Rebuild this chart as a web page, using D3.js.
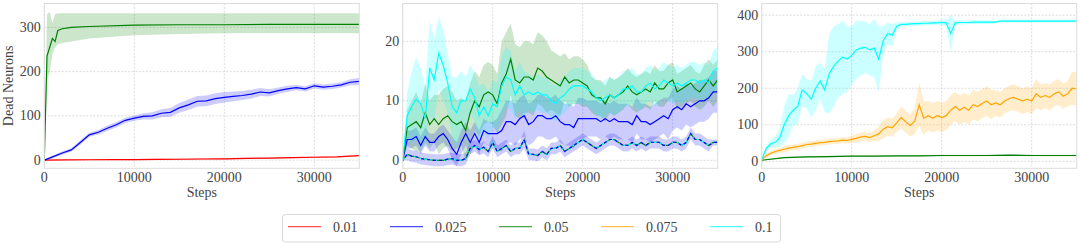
<!DOCTYPE html>
<html>
<head>
<meta charset="utf-8">
<title>Dead Neurons</title>
<script src="https://cdn.jsdelivr.net/npm/d3@7"></script>
<style>
  body { margin: 0; background: #fff; }
  text { font-family: "Liberation Serif", serif; fill: #444; }
</style>
</head>
<body>
<script>
// ---- data ----
var labels = ["0.01", "0.025", "0.05", "0.075", "0.1"];
var colors = ["#ff0000", "#0000ff", "#008000", "#ffa500", "#00ffff"];
var xTicks = [0, 10000, 20000, 30000];

// left panel
var stepsLeftGreen = [0, 300, 600, 900, 1200, 1500, 2000, 3000, 5000, 10000, 15000, 20000, 25000, 30000, 35000];
var greenLeft   = [0, 235, 255, 275, 268, 293, 297, 300, 302, 305, 306, 306, 307, 307, 307];
var greenLeftLo = [0, 180, 200, 240, 255, 262, 265, 268, 275, 282, 285, 287, 287, 287, 287];
var greenLeftHi = [0, 330, 335, 310, 330, 332, 332, 332, 332, 332, 332, 332, 332, 332, 332];
var stepsLeftBlue = d3.range(0, 35001, 1000);
var blueLeft = [0, 8, 16, 23, 40, 57, 63, 72, 80, 90, 95, 99, 100, 106, 108, 118, 125, 133, 134, 139,
                142, 144, 146, 149, 154, 152, 157, 161, 164, 161, 168, 165, 167, 170, 176, 178];
var blueLeftSpread = [1, 3, 4, 4, 5, 5, 5, 6, 6, 6, 6, 7, 8, 9, 10, 11, 12, 12, 12, 12,
                      12, 11, 10, 10, 9, 8, 7, 7, 6, 6, 6, 6, 6, 6, 7, 8];
var stepsLeftRed = d3.range(0, 35001, 2500);
var redLeft = [0, 0.5, 0.8, 1, 1.3, 1.6, 2, 2.5, 3, 4, 4.5, 5.5, 6.5, 7.5, 10];
var redLeftSpread = [0.5, 1, 1, 1, 1.5, 1.5, 1.5, 1.5, 1.5, 1.5, 1.5, 1.5, 1.5, 1.5, 1.5];

// middle panel
var stepsMid = d3.range(0, 35001, 500);
var cyanMid = [0, 7.5, 9, 10.3, 9.5, 7, 15.5, 13.5, 18, 16,
  13, 9, 8, 10, 10, 12, 10.5, 7.5, 9, 7.5,
  9.5, 9, 12.5, 14, 13.5, 11, 12.5, 11, 11.5, 11,
  11.5, 11, 11, 10, 9.5, 10.5, 11, 12, 12.5, 12.5,
  12.5, 12, 11.5, 10.5, 10, 10.5, 11, 10.5, 11, 12,
  12, 12.5, 11.5, 11.5, 12.5, 13, 12, 12.5, 13.5, 13,
  12.5, 13, 12.5, 13, 13.5, 13.5, 13, 13.5, 13, 15, 15.5];
var cyanMidSpread = [0, 4, 6, 7, 6, 5, 8, 7, 6, 6,
  5, 5, 6, 5, 4, 4, 4, 5, 4, 4,
  4, 4, 5, 5, 5, 4, 4, 4, 3, 3,
  3, 3, 3, 3, 3, 3, 3, 3, 3, 3,
  3, 3, 3, 3, 3, 3, 3, 3, 3, 3,
  3, 3, 3, 3, 3, 3, 3, 3, 3, 3,
  3, 3, 3, 3, 3, 3, 3, 3, 3, 3.5, 3.5];
var greenMid = [0, 5.5, 6, 6.5, 5.5, 8, 6, 7, 6, 7,
  7.5, 6.5, 6, 6.5, 5, 8, 10, 9, 11, 11.5,
  11, 9.5, 13, 14.5, 17, 13.5, 13, 14, 14, 13.5,
  15.5, 15, 14, 13.5, 13, 12.5, 14, 13, 13.5, 13.5,
  13, 12.5, 11, 10.5, 10.5, 9.5, 11, 10.5, 11, 11.5,
  12.5, 11.5, 11, 11.5, 12, 11.5, 13, 12, 12, 13,
  13.5, 11.5, 12, 12.5, 13, 12, 11.5, 12.5, 13.5, 12.5, 13.5];
var greenMidSpread = [0, 3, 4, 5, 4, 5, 4, 4, 5, 5,
  5, 5, 4, 4, 5, 5, 5, 5, 5, 5,
  5, 5, 7, 7, 6, 6, 6, 6, 6, 6,
  6, 6, 6, 5, 5, 5, 4, 4, 4, 4,
  4, 3.5, 3, 3, 3, 3, 3, 3, 3, 3,
  3, 3, 3, 3, 3, 3, 3, 3, 3, 3,
  3, 3, 3, 3, 3, 3, 3, 3.5, 3.5, 3.5, 3.5];
var blueMid = [0, 3.5, 3.5, 4, 2.5, 4, 3, 3, 4, 4.5,
  3.5, 2, 1, 3, 4.5, 3, 4.5, 3, 5, 4.5,
  4.5, 4.5, 5, 6.5, 6.5, 6, 7, 7.5, 6, 6.5,
  7.5, 7.5, 7, 7, 7.5, 6.5, 6, 6, 5.5, 7,
  7, 7, 7, 7, 6.5, 7, 6.5, 7, 6.5, 6.5,
  6.5, 6, 7.5, 6.5, 6.5, 6, 6.5, 7, 7.5, 7,
  8.5, 9, 8.5, 9.5, 9, 9.5, 10, 10, 10.5, 11.5, 11.5];
var blueMidSpread = [0, 1.5, 1.5, 1.5, 1.5, 1.5, 1.5, 1.5, 1.5, 1.5,
  1.5, 2, 2, 2, 2, 2, 2, 2, 2, 2,
  2, 2.5, 3.5, 3.5, 3.5, 3.5, 3.5, 3.5, 3.5, 3.5,
  3.5, 3.5, 3.5, 3.5, 3.5, 3.5, 3.5, 3.5, 3.5, 3.5,
  3.5, 3, 3, 3, 3, 3, 3, 3, 3, 3,
  3, 3, 3, 3, 3, 3, 3, 3, 3, 3.5,
  3.5, 3.5, 3.5, 3.5, 3.5, 3.5, 3.5, 3.5, 3.5, 3.5, 3.5];
var lowMid = [0, 1, 0.7, 0.6, 0.3, 0.2, 0.1, 0, 0, 0,
  0.2, 0.3, 0, 0, 0.3, 2, 2.5, 1.8, 2.2, 1.5,
  3, 1.5, 2, 2.5, 1.5, 2, 2, 3.5, 1, 1,
  0.8, 1.5, 1, 2, 2, 2.5, 1.5, 2, 2.5, 3,
  3.5, 3, 2.5, 2, 2.5, 3, 3.5, 3.5, 3, 2.5,
  2.5, 3, 2.5, 3, 2.5, 3, 3, 3, 2.5, 2.5,
  3, 3, 2.5, 3, 4.5, 3.5, 3.5, 3, 2.5, 3, 3];
var lowMidSpread = [0, 1, 1, 1, 1, 1, 1, 1, 1, 1,
  1, 1, 1, 1, 1, 1, 1, 1, 1, 1,
  1, 1, 1, 1, 1, 1, 1, 1.5, 1, 1,
  1, 1, 1, 1, 1, 1, 1, 1, 1, 1,
  1, 1, 1, 1, 1, 1, 1, 1, 1, 1,
  1, 1, 1, 1, 1, 1, 1, 1, 1, 1,
  1, 1, 1, 1, 1, 1, 1, 1, 1, 0.5, 0.5];

// right panel
var stepsRight = d3.range(0, 35001, 500);
var cyanRight = [5, 35, 48, 52, 65, 100, 125, 140, 150, 195,
  185, 170, 200, 220, 195, 240, 260, 275, 285, 280,
  290, 305, 310, 312, 305, 310, 280, 330, 350, 345,
  370, 375, 375, 376, 377, 377, 378, 378, 379, 379,
  380, 379, 350, 379, 380, 380, 380, 381, 381, 381,
  381, 381, 381, 384, 384, 384, 384, 384, 384, 384,
  384, 384, 384, 384, 384, 384, 384, 384, 384, 384, 384];
var cyanRightSpread = [3, 10, 10, 15, 25, 50, 60, 40, 50, 45,
  40, 50, 60, 50, 60, 110, 110, 100, 100, 90,
  80, 80, 75, 70, 70, 80, 90, 40, 30, 30,
  10, 6, 6, 6, 6, 6, 6, 6, 6, 6,
  8, 8, 50, 6, 6, 5, 5, 5, 5, 5,
  5, 5, 4, 4, 4, 4, 4, 4, 4, 4,
  4, 4, 4, 4, 4, 4, 4, 4, 4, 4, 4];
var orangeRight = [5, 15, 22, 27, 30, 33, 36, 38, 40, 43,
  46, 47, 49, 51, 52, 54, 55, 56, 58, 57,
  60, 63, 67, 68, 65, 70, 75, 88, 95, 92,
  105, 120, 108, 98, 110, 155, 118, 125, 118, 125,
  120, 125, 140, 150, 140, 148, 140, 155, 150, 158,
  165, 155, 160, 155, 165, 172, 175, 170, 165, 170,
  165, 185, 175, 180, 175, 185, 190, 178, 185, 200, 198];
var orangeRightSpread = [2, 5, 6, 7, 7, 8, 8, 8, 8, 8,
  8, 8, 8, 8, 8, 8, 8, 8, 8, 8,
  10, 12, 12, 12, 12, 15, 20, 25, 25, 25,
  25, 30, 30, 30, 35, 60, 45, 40, 40, 40,
  40, 40, 40, 40, 40, 40, 40, 40, 40, 40,
  40, 40, 35, 35, 35, 35, 35, 35, 35, 35,
  35, 40, 35, 35, 35, 35, 35, 35, 35, 45, 45];
var stepsRightGreen = d3.range(0, 35001, 2500);
var greenRight = [3, 10, 12, 13, 14, 14, 15, 15, 16, 16, 16, 17, 16, 16, 16];
var greenRightSpread = [1, 2, 2, 2, 2, 2, 2, 2, 2, 2, 2, 2, 2, 2, 2];

// ---- layout ----
var width = 1080, height = 246;
var plotW = 315, plotTop = 3.5, plotBottom = 168.3;

var svg = d3.select("body").append("svg").attr("width", width).attr("height", height);

function band(steps, mean, spread, lo, hi) {
    return steps.map(function (s, i) {
        return { x: s, y: mean[i],
                 lo: lo ? lo[i] : mean[i] - spread[i],
                 hi: hi ? hi[i] : mean[i] + spread[i] };
    });
}

var panels = [
    { left: 44.3, yDomain: [-18.5, 354], yTicks: [0, 100, 200, 300], ylabel: "Dead Neurons",
      series: [
        { data: band(stepsLeftRed, redLeft, redLeftSpread), color: colors[0] },
        { data: band(stepsLeftBlue, blueLeft, blueLeftSpread), color: colors[1] },
        { data: band(stepsLeftGreen, greenLeft, null, greenLeftLo, greenLeftHi), color: colors[2] }
      ] },
    { left: 402.7, yDomain: [-1.34, 26.35], yTicks: [0, 10, 20],
      series: [
        { data: band(stepsMid, lowMid, lowMidSpread), color: colors[1], noLine: true },
        { data: band(stepsMid, blueMid, blueMidSpread), color: colors[1] },
        { data: band(stepsMid, greenMid, greenMidSpread), color: colors[2] },
        { data: band(stepsMid, cyanMid, cyanMidSpread), color: colors[4] },
        { data: band(stepsMid, lowMid, lowMidSpread), color: colors[2], noBand: true },
        { data: band(stepsMid, lowMid, lowMidSpread), color: colors[4], noBand: true, dash: "3,2" },
        { data: band(stepsMid, lowMid, lowMidSpread), color: colors[1], noBand: true, dash: "3,3", offset: 2 }
      ] },
    { left: 761.7, yDomain: [-19.1, 432], yTicks: [0, 100, 200, 300, 400],
      series: [
        { data: band(stepsRightGreen, greenRight, greenRightSpread), color: colors[2] },
        { data: band(stepsRight, orangeRight, orangeRightSpread), color: colors[3] },
        { data: band(stepsRight, cyanRight, cyanRightSpread), color: colors[4] }
      ] }
];

panels.forEach(function (p, pi) {
    var xScale = d3.scaleLinear().domain([0, 35000]).range([p.left, p.left + plotW]);
    var yScale = d3.scaleLinear().domain(p.yDomain).range([plotBottom, plotTop]);
    var g = svg.append("g");

    // grid
    g.selectAll(".gx").data(xTicks).enter().append("line")
        .attr("x1", function (d) { return xScale(d); }).attr("x2", function (d) { return xScale(d); })
        .attr("y1", plotTop).attr("y2", plotBottom)
        .attr("stroke", "#d4d4d4").attr("stroke-width", 0.8).attr("stroke-dasharray", "2,1.5");
    g.selectAll(".gy").data(p.yTicks).enter().append("line")
        .attr("x1", p.left).attr("x2", p.left + plotW)
        .attr("y1", function (d) { return yScale(d); }).attr("y2", function (d) { return yScale(d); })
        .attr("stroke", "#d4d4d4").attr("stroke-width", 0.8).attr("stroke-dasharray", "2,1.5");

    // clip
    var clipId = "clip" + pi;
    svg.append("clipPath").attr("id", clipId).append("rect")
        .attr("x", p.left).attr("y", plotTop).attr("width", plotW).attr("height", plotBottom - plotTop);
    var plot = g.append("g").attr("clip-path", "url(#" + clipId + ")");

    var area = d3.area()
        .x(function (d) { return xScale(d.x); })
        .y0(function (d) { return yScale(d.lo); })
        .y1(function (d) { return yScale(d.hi); });
    var line = d3.line()
        .x(function (d) { return xScale(d.x); })
        .y(function (d) { return yScale(d.y); });

    p.series.forEach(function (s) {
        if (!s.noBand) {
            plot.append("path").attr("d", area(s.data))
                .attr("fill", s.color).attr("fill-opacity", 0.2).attr("stroke", "none");
        }
    });
    p.series.forEach(function (s) {
        if (!s.noLine) {
            plot.append("path").attr("d", line(s.data))
                .attr("fill", "none").attr("stroke", s.color).attr("stroke-width", 1.2)
                .attr("stroke-dasharray", s.dash || null)
                .attr("stroke-dashoffset", s.offset || 0);
        }
    });

    // frame
    g.append("rect").attr("x", p.left).attr("y", plotTop).attr("width", plotW)
        .attr("height", plotBottom - plotTop).attr("fill", "none")
        .attr("stroke", "#dcdcdc").attr("stroke-width", 1);

    // tick labels
    g.selectAll(".xt").data(xTicks).enter().append("text")
        .attr("x", function (d) { return xScale(d); }).attr("y", 182)
        .attr("text-anchor", "middle").attr("font-size", "14px")
        .text(function (d) { return d; });
    g.selectAll(".yt").data(p.yTicks).enter().append("text")
        .attr("x", p.left - 3.5).attr("y", function (d) { return yScale(d); })
        .attr("dy", "0.33em").attr("text-anchor", "end").attr("font-size", "14px")
        .text(function (d) { return d; });

    g.append("text").attr("x", p.left + plotW / 2).attr("y", 196.5)
        .attr("text-anchor", "middle").attr("font-size", "14px").text("Steps");
    if (p.ylabel) {
        g.append("text").attr("transform", "translate(13," + (plotTop + plotBottom) / 2 + ") rotate(-90)")
            .attr("text-anchor", "middle").attr("font-size", "14px").text(p.ylabel);
    }
});

// ---- legend ----
var legend = svg.append("g");
legend.append("rect").attr("x", 282.5).attr("y", 214.5).attr("width", 498).attr("height", 27.5)
    .attr("rx", 3).attr("fill", "#fff").attr("stroke", "#d8d8d8");
var lx = 288;
labels.forEach(function (lab, i) {
    legend.append("line").attr("x1", lx).attr("x2", lx + 33).attr("y1", 226.7).attr("y2", 226.7)
        .attr("stroke", colors[i]).attr("stroke-opacity", 0.7).attr("stroke-width", 1.2);
    var t = legend.append("text").attr("x", lx + 45).attr("y", 231.5).attr("font-size", "14px").text(lab);
    lx += 45 + t.node().getComputedTextLength() + 32.5;
});
</script>
</body>
</html>
